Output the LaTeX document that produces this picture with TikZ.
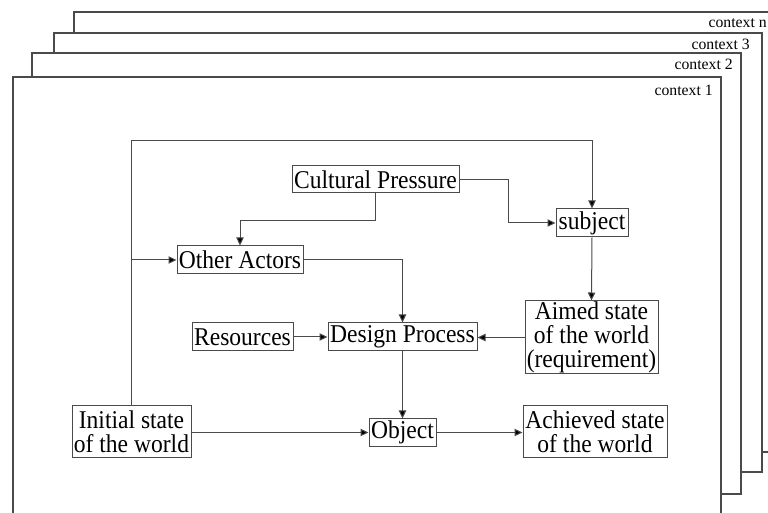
\documentclass[tikz,border=0pt]{standalone}
\usepackage{fontspec}
\setmainfont{Liberation Serif}
\newfontfamily\boxserif[FakeStretch=0.92]{Liberation Serif}
\usetikzlibrary{arrows.meta}
\definecolor{linegray}{HTML}{4A4A4A}
\begin{document}
% one unit = one pixel, y axis pointing down
\begin{tikzpicture}[x=0.75pt,y=-0.75pt,
  frame/.style={draw=linegray,line width=0.8pt,fill=white},
  ctxlabel/.style={anchor=base east,inner sep=0pt,font=\fontsize{11.8}{13}\selectfont},
  box/.style={draw=linegray,line width=0.75pt,fill=white,inner sep=0pt,align=center,
              font=\boxserif\fontsize{19.2}{18}\selectfont},
  link/.style={draw=linegray,line width=0.75pt},
  arr/.style={link,-{Triangle[length=6pt,width=5.5pt,fill=black]}}]
\clip (0,0) rectangle (768,513);
\fill[white] (0,0) rectangle (768,513);

% stacked context frames, back to front
\draw[frame] (74,12) rectangle (790,452);
\node[ctxlabel] (cn) at (767,28) {context n};
\draw[frame] (54,33) rectangle (762,472);
\node[ctxlabel] (c3) at (750,50) {context 3};
\draw[frame] (32,53) rectangle (741,494);
\node[ctxlabel] (c2) at (733,70) {context 2};
\draw[frame] (13,77) rectangle (721,530);
\node[ctxlabel] (c1) at (713,96) {context 1};

% process elements
\node[box,minimum width=125.25pt,minimum height=20.25pt] (cp)   at (375.5,179.5) {Cultural Pressure};
\node[box,minimum width=94.5pt, minimum height=21pt]    (oa)   at (240,260)     {Other Actors};
\node[box,minimum width=54pt,   minimum height=21pt]    (subj) at (592,223)     {subject};
\node[box,minimum width=99.75pt,minimum height=54.75pt] (aim)  at (591.5,337.5) {Aimed state\\of the world\\(requirement)};
\node[box,minimum width=111.75pt,minimum height=21pt]   (dp)   at (402.5,337)   {Design Process};
\node[box,minimum width=75.75pt,minimum height=21pt]    (res)  at (242.5,337)   {Resources};
\node[box,minimum width=89.25pt,minimum height=38.25pt] (init) at (131.5,431.5) {Initial state\\of the world};
\node[box,minimum width=50.25pt,minimum height=20.25pt] (obj)  at (402.5,432.5) {Object};
\node[box,minimum width=108pt,  minimum height=38.25pt] (ach)  at (595,431.5)   {Achieved state\\of the world};

% routing levels
\coordinate (looptop) at (0,141);
\coordinate (cpbend) at (508,0);

% connectors
\draw[arr] (init.north) -- (init.north |- looptop) -| (subj.north);
\draw[arr] (init.north |- oa.west) -- (oa.west);
\draw[arr] (cp.south) -- ++(0,27) -| (oa.north);
\draw[arr] (cp.east) -- (cp.east -| cpbend) |- (subj.west);
\draw[arr] (oa.east) -| (dp.north);
\draw[arr] (subj.south) -- (aim.north);
\draw[arr] (aim.west) -- (dp.east |- aim.west);
\draw[arr] (res.east) -- (dp.west);
\draw[arr] (dp.south) -- (obj.north);
\draw[arr] (init.east |- obj.west) -- (obj.west);
\draw[arr] (obj.east) -- (ach.west |- obj.east);
\end{tikzpicture}
\end{document}
